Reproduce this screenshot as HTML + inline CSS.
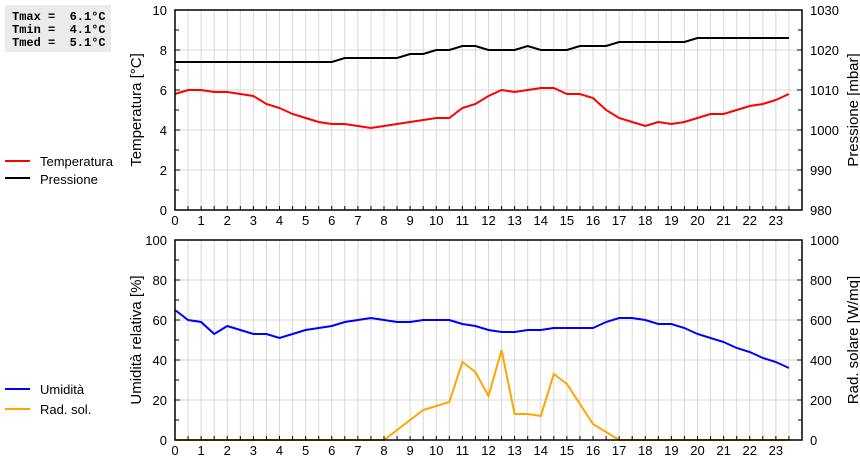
<!DOCTYPE html>
<html><head><meta charset="utf-8"><style>
body{margin:0;background:#fff;width:860px;height:460px;overflow:hidden;font-family:"Liberation Sans",sans-serif}
svg text{font-family:"Liberation Sans",sans-serif}
</style></head><body>
<svg id="c" width="860" height="460" xmlns="http://www.w3.org/2000/svg">
<rect x="5" y="5" width="106" height="47" fill="#ebebeb"/>
<g font-weight="bold" font-size="12">
<text x="12" y="20" style="font-family:'Liberation Mono',monospace;white-space:pre" xml:space="preserve">Tmax =  6.1°C</text>
<text x="12" y="33" style="font-family:'Liberation Mono',monospace;white-space:pre" xml:space="preserve">Tmin =  4.1°C</text>
<text x="12" y="46" style="font-family:'Liberation Mono',monospace;white-space:pre" xml:space="preserve">Tmed =  5.1°C</text>
</g>
<g font-size="13">
<line x1="5" y1="161" x2="30" y2="161" stroke="#f00" stroke-width="2"/><text x="40" y="166">Temperatura</text>
<line x1="5" y1="178" x2="30" y2="178" stroke="#000" stroke-width="2"/><text x="40" y="184">Pressione</text>
</g>
<g font-size="13">
<line x1="5" y1="389" x2="30" y2="389" stroke="#00f" stroke-width="2"/><text x="40" y="394">Umidità</text>
<line x1="5" y1="409" x2="30" y2="409" stroke="#ffa500" stroke-width="2"/><text x="40" y="414">Rad. sol.</text>
</g>
<g id="top"></g><g id="bot"></g>
</svg>
<script>
const hours=[0,0.5,1,1.5,2,2.5,3,3.5,4,4.5,5,5.5,6,6.5,7,7.5,8,8.5,9,9.5,10,10.5,11,11.5,12,12.5,13,13.5,14,14.5,15,15.5,16,16.5,17,17.5,18,18.5,19,19.5,20,20.5,21,21.5,22,22.5,23,23.5];
const temperatura=[5.8,6.0,6.0,5.9,5.9,5.8,5.7,5.3,5.1,4.8,4.6,4.4,4.3,4.3,4.2,4.1,4.2,4.3,4.4,4.5,4.6,4.6,5.1,5.3,5.7,6.0,5.9,6.0,6.1,6.1,5.8,5.8,5.6,5.0,4.6,4.4,4.2,4.4,4.3,4.4,4.6,4.8,4.8,5.0,5.2,5.3,5.5,5.8];
const pressione=[1017,1017,1017,1017,1017,1017,1017,1017,1017,1017,1017,1017,1017,1018,1018,1018,1018,1018,1019,1019,1020,1020,1021,1021,1020,1020,1020,1021,1020,1020,1020,1021,1021,1021,1022,1022,1022,1022,1022,1022,1023,1023,1023,1023,1023,1023,1023,1023];
const umidita=[65,60,59,53,57,55,53,53,51,53,55,56,57,59,60,61,60,59,59,60,60,60,58,57,55,54,54,55,55,56,56,56,56,59,61,61,60,58,58,56,53,51,49,46,44,41,39,36];
const radiazione=[0,0,0,0,0,0,0,0,0,0,0,0,0,0,0,0,0,50,100,150,170,190,390,340,220,450,130,130,120,330,280,180,80,40,0,0,0,0,0,0,0,0,0,0,0,0,0,0];
const hourTicks=[0,1,2,3,4,5,6,7,8,9,10,11,12,13,14,15,16,17,18,19,20,21,22,23];
const tTicks=[0,2,4,6,8,10], pTicks=[980,990,1000,1010,1020,1030];
const uTicks=[0,20,40,60,80,100], rTicks=[0,200,400,600,800,1000];
const NS='http://www.w3.org/2000/svg';
const X0=175,X1=802;
const xs=h=>X0+h*(X1-X0)/24;
function el(p,t,a,txt){const e=document.createElementNS(NS,t);for(const k in a)e.setAttribute(k,a[k]);if(txt!==undefined)e.textContent=txt;p.appendChild(e);return e;}
function panel(gid,yTop,yBot,lT,rT,lLab,rLab,series){
  const g=document.getElementById(gid);
  const lmin=lT[0],lmax=lT[lT.length-1],rmin=rT[0],rmax=rT[rT.length-1];
  const yl=v=>yBot-(v-lmin)/(lmax-lmin)*(yBot-yTop);
  const yr=v=>yBot-(v-rmin)/(rmax-rmin)*(yBot-yTop);
  for(let h=0.5;h<24;h+=0.5){const l=el(g,'line',{x1:xs(h),x2:xs(h),y1:yTop,y2:yBot,stroke:'#d8d8d8'});}
  lT.forEach((v,i)=>{if(i>0&&i<lT.length-1){const l=el(g,'line',{x1:X0,x2:X1,y1:yl(v),y2:yl(v),stroke:'#d8d8d8'});}
    const t=el(g,'text',{x:X0-8,y:yl(v)+5,'text-anchor':'end','font-size':13},v);});
  rT.forEach(v=>{const t=el(g,'text',{x:X1+8,y:yr(v)+5,'font-size':13},v);});
  hourTicks.forEach(h=>{const t=el(g,'text',{x:xs(h),y:yBot+15,'text-anchor':'middle','font-size':13},h);});
  const a=el(g,'text',{x:0,y:0,'font-size':15,'text-anchor':'middle',transform:`translate(141,${(yTop+yBot)/2}) rotate(-90)`},lLab);
  const b=el(g,'text',{x:0,y:0,'font-size':15,'text-anchor':'middle',transform:`translate(858,${(yTop+yBot)/2}) rotate(-90)`},rLab);
  series.forEach(s=>{const sc=s.right?yr:yl;const pts=hours.map((h,i)=>xs(h).toFixed(1)+','+sc(s.data[i]).toFixed(1)).join(' ');
    const p=el(g,'polyline',{points:pts,fill:'none',stroke:s.color,'stroke-width':2});});
  const f=el(g,'rect',{x:X0,y:yTop,width:X1-X0,height:yBot-yTop,fill:'none',stroke:'#000','stroke-width':1.5});
  lT.forEach(v=>el(g,'line',{x1:X0,x2:X0+5,y1:yl(v),y2:yl(v),stroke:'#000'}));
  rT.forEach(v=>el(g,'line',{x1:X1-5,x2:X1,y1:yr(v),y2:yr(v),stroke:'#000'}));
  for(let i=0;i<lT.length-1;i++){const m=(yl(lT[i])+yl(lT[i+1]))/2;el(g,'line',{x1:X0,x2:X0+4,y1:m,y2:m,stroke:'#000'});el(g,'line',{x1:X1-4,x2:X1,y1:m,y2:m,stroke:'#000'});}
  for(let h=0.5;h<24;h+=0.5)el(g,'line',{x1:xs(h),x2:xs(h),y1:yBot-4,y2:yBot,stroke:'#000'});
}
panel('top',10,210,tTicks,pTicks,'Temperatura [°C]','Pressione [mbar]',[{data:pressione,right:true,color:'#000',name:'pressione-line'},{data:temperatura,color:'#f00',name:'temperatura-line'}]);
panel('bot',240,440,uTicks,rTicks,'Umidità relativa [%]','Rad. solare [W/mq]',[{data:radiazione,right:true,color:'#ffa500',name:'radiazione-line'},{data:umidita,color:'#00f',name:'umidita-line'}]);
</script>
</body></html>
